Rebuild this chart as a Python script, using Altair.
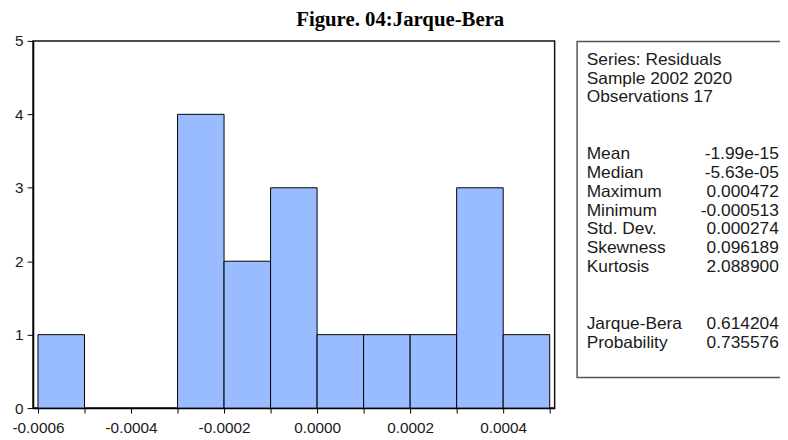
import altair as alt
import pandas as pd

# ---- histogram data (bin edges and counts) ----
bin_start = [-0.0006, -0.0005, -0.0004, -0.0003, -0.0002, -0.0001, 0.0, 0.0001, 0.0002, 0.0003, 0.0004]
bin_end = [-0.0005, -0.0004, -0.0003, -0.0002, -0.0001, 0.0, 0.0001, 0.0002, 0.0003, 0.0004, 0.0005]
counts = [1, 0, 0, 4, 2, 3, 1, 1, 1, 3, 1]

x_ticks = [-0.0006, -0.0005, -0.0004, -0.0003, -0.0002, -0.0001, 0.0, 0.0001, 0.0002, 0.0003, 0.0004, 0.0005]
y_ticks = [0, 1, 2, 3, 4, 5]

# ---- statistics panel ----
stat_labels = ["Series: Residuals", "Sample 2002 2020", "Observations 17",
               "Mean", "Median", "Maximum", "Minimum", "Std. Dev.",
               "Skewness", "Kurtosis", "Jarque-Bera", "Probability"]
stat_values = ["", "", "",
               "-1.99e-15", "-5.63e-05", "0.000472", "-0.000513", "0.000274",
               "0.096189", "2.088900", "0.614204", "0.735576"]
stat_rows = [0, 1, 2, 5, 6, 7, 8, 9, 10, 11, 14, 15]

title_text = "Figure. 04:Jarque-Bera"

hist_df = pd.DataFrame({"start": bin_start, "end": bin_end, "count": counts})
stats_df = pd.DataFrame({"label": stat_labels, "value": stat_values, "row": stat_rows})
one = pd.DataFrame({"t": [title_text]})

W, H = 527, 371
FONT = "Liberation Sans"

x_scale = alt.Scale(domain=[-0.0006106, 0.0005106], nice=False, zero=False)
y_scale = alt.Scale(domain=[0, 5], nice=False)

label_expr = ("abs(round(datum.value*10000)) % 2 == 0 ? "
              "replace(format(datum.value, '.4f'), '\u2212', '-') : ''")

bars = alt.Chart(hist_df).transform_filter("datum.count > 0").mark_rect(
    fill="#99BBFF", stroke="#000000", strokeWidth=1
).encode(
    x=alt.X("start:Q", scale=x_scale, title=None,
            axis=alt.Axis(values=x_ticks, tickSize=5, labelPadding=8, grid=False,
                          labelFlush=False, labelOverlap=False,
                          labelExpr=label_expr)),
    x2="end:Q",
    y=alt.Y("count:Q", scale=y_scale, title=None,
            axis=alt.Axis(values=y_ticks, tickSize=6, labelPadding=4, grid=False, format="d")),
    y2=alt.datum(0),
)

box = alt.Chart(one).mark_rect(fill="white", stroke="#555555", strokeWidth=1.5).encode(
    x=alt.value(549.7), x2=alt.value(770), y=alt.value(0.5), y2=alt.value(340)
)

row_scale = alt.Scale(domain=[0, 15], range=[19, 305])

stat_lab = alt.Chart(stats_df).mark_text(
    align="left", baseline="middle", font=FONT, fontSize=17.5, color="#1a1a1a"
).encode(
    x=alt.value(559.4),
    y=alt.Y("row:Q", scale=row_scale, axis=None),
    text="label:N",
)

stat_val = alt.Chart(stats_df).mark_text(
    align="right", baseline="middle", font=FONT, fontSize=17.5, color="#1a1a1a"
).encode(
    x=alt.value(753.5),
    y=alt.Y("row:Q", scale=row_scale, axis=None),
    text="value:N",
)

title = alt.Chart(one).mark_text(
    align="center", baseline="middle", font="Liberation Serif", fontSize=21,
    fontWeight="bold", color="#000000"
).encode(
    x=alt.value(371), y=alt.value(-21.5), text="t:N"
)

chart = alt.layer(bars, box, stat_lab, stat_val, title).resolve_scale(
    y="independent"
).properties(
    width=W, height=H,
    autosize=alt.AutoSizeParams(type="none"),
    padding={"left": 25.3, "top": 31, "right": 227.7, "bottom": 30},
).configure_view(
    stroke="#111111", strokeWidth=1.5
).configure_axis(
    labelFont=FONT, labelFontSize=15.5, labelColor="#1a1a1a",
    tickColor="#000000", domainColor="#000000", domainWidth=1.5,
)

chart.save("out.html", embed_options={"renderer": "svg", "actions": False})
